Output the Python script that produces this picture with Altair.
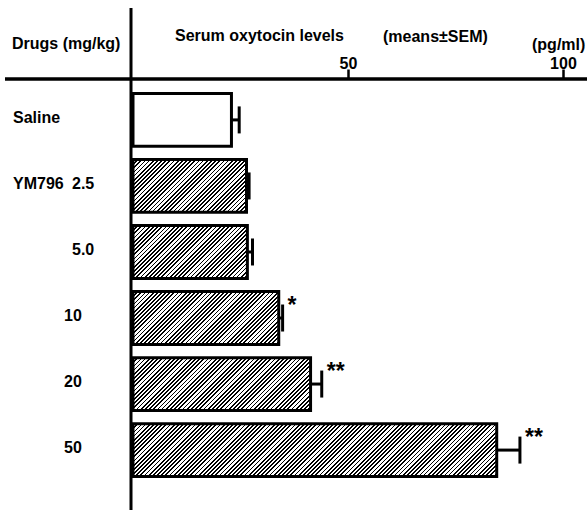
import math
import altair as alt
import pandas as pd

# ---- data ----
keys = ["Saline", "2.5", "5.0", "10", "20", "50"]
drug_names = ["Saline", "YM796", "", "", "", ""]
doses = ["", "2.5", "5.0", "10", "20", "50"]
means = [22.9, 26.4, 26.6, 33.9, 41.3, 84.6]
sems = [1.8, 0.6, 1.2, 0.9, 2.6, 5.4]
stars = ["", "", "", "*", "**", "**"]
hatched = [False, True, True, True, True, True]
tick_values = [50, 100]

df = pd.DataFrame({
    "key": keys, "drug": drug_names, "dose": doses,
    "mean": means, "sem": sems, "star": stars,
})
df["hi"] = df["mean"] + df["sem"]

# ---- layout ----
W, H = 454, 431
XMAX = 105.6
Y_RANGE = [14.5, 397.5]
PAD_INNER = 0.2
FONT = "Liberation Sans"

xscale = alt.Scale(domain=[0, XMAX], nice=False, zero=True)
xaxis = alt.Axis(orient="top", values=tick_values, domain=False, grid=False,
                 tickSize=10, tickWidth=2.5, tickColor="black",
                 labelFont=FONT, labelFontWeight="bold", labelFontSize=16,
                 labelColor="black", labelBaseline="alphabetic", labelPadding=1,
                 title=None)
yscale = alt.Scale(domain=keys, range=Y_RANGE, paddingInner=PAD_INNER, paddingOuter=0)
Y = alt.Y("key:N", scale=yscale, axis=None)


def X(field):
    return alt.X(field, type="quantitative", scale=xscale, axis=xaxis)


base = alt.Chart(df)

layers = []

# plain (saline) bar
layers.append(
    base.transform_filter(alt.datum.key == "Saline")
    .mark_bar(fill="white", stroke="black", strokeWidth=3)
    .encode(x=X("mean"), y=Y)
)

# hatched bars via striped linear gradients
n = len(keys)
step = (Y_RANGE[1] - Y_RANGE[0]) / (n - PAD_INNER)
bh = step * (1 - PAD_INNER)
period = 4.2
for i, k in enumerate(keys):
    if not hatched[i]:
        continue
    w = means[i] * W / XMAX
    kk = (w + bh) * w / (w * w + bh * bh)
    N = int(math.ceil((w + bh) / period))
    stops = []
    for j in range(N):
        a = j / N
        b = (j + 0.42) / N
        c = (j + 1) / N
        stops += [
            {"offset": round(a, 5), "color": "black"},
            {"offset": round(b, 5), "color": "black"},
            {"offset": round(b, 5), "color": "white"},
            {"offset": round(c, 5), "color": "white"},
        ]
    grad = {"gradient": "linear", "x1": 0, "y1": 0,
            "x2": round(kk, 5), "y2": round(kk * bh / w, 5), "stops": stops}
    layers.append(
        base.transform_filter(alt.datum.key == k)
        .mark_bar(fill=grad, stroke="black", strokeWidth=3)
        .encode(x=X("mean"), y=Y)
    )

# error bar stems and caps
layers.append(
    base.mark_rule(color="black", strokeWidth=3)
    .encode(x=X("mean"), x2="hi", y=Y)
)
layers.append(
    base.mark_tick(color="black", size=27, thickness=3, opacity=1, orient="vertical")
    .encode(x=X("hi"), y=Y)
)

# significance stars
layers.append(
    base.mark_text(align="left", baseline="alphabetic", dx=5, dy=-5,
                   font=FONT, fontWeight="bold", fontSize=23, color="black")
    .encode(x=X("hi"), y=Y, text="star:N")
)

# row labels
layers.append(
    base.mark_text(align="left", baseline="middle", font=FONT, fontWeight="bold",
                   fontSize=16, color="black", dy=-2)
    .encode(x=alt.value(-120), y=Y, text="drug:N")
)
layers.append(
    base.transform_filter(alt.FieldOneOfPredicate(field="key", oneOf=["2.5", "5.0"]))
    .mark_text(align="left", baseline="middle", font=FONT, fontWeight="bold",
               fontSize=16, color="black", dy=-2)
    .encode(x=alt.value(-61), y=Y, text="dose:N")
)
layers.append(
    base.transform_filter(alt.FieldOneOfPredicate(field="key", oneOf=["10", "20", "50"]))
    .mark_text(align="left", baseline="middle", font=FONT, fontWeight="bold",
               fontSize=16, color="black", dy=-2)
    .encode(x=alt.value(-69), y=Y, text="dose:N")
)

# axis lines
layers.append(
    alt.Chart(pd.DataFrame({"a": [0]})).mark_rule(color="black", strokeWidth=3.5)
    .encode(x=alt.value(-128), x2=alt.value(W), y=alt.value(0))
)
layers.append(
    alt.Chart(pd.DataFrame({"a": [0]})).mark_rule(color="black", strokeWidth=3)
    .encode(x=alt.value(-2), y=alt.value(-71), y2=alt.value(H))
)

# header texts
head_texts = ["Drugs (mg/kg)", "Serum oxytocin levels", "(means\u00b1SEM)", "(pg/ml)"]
head_x = [-121, 42, 250, 399]
head_y = [-30, -38, -37, -29]
for t, hx, hy in zip(head_texts, head_x, head_y):
    layers.append(
        alt.Chart(pd.DataFrame({"t": [t]}))
        .mark_text(align="left", baseline="alphabetic", font=FONT, fontWeight="bold",
                   fontSize=16, color="black")
        .encode(x=alt.value(hx), y=alt.value(hy), text="t:N")
    )

chart = alt.layer(*layers).properties(
    width=W, height=H,
    autosize=alt.AutoSizeParams(type="none"),
    padding={"left": 133, "top": 79, "right": 0, "bottom": 3},
    background="white",
).configure_view(stroke=None)

chart.save("out.html", embed_options={"renderer": "svg", "actions": False})
